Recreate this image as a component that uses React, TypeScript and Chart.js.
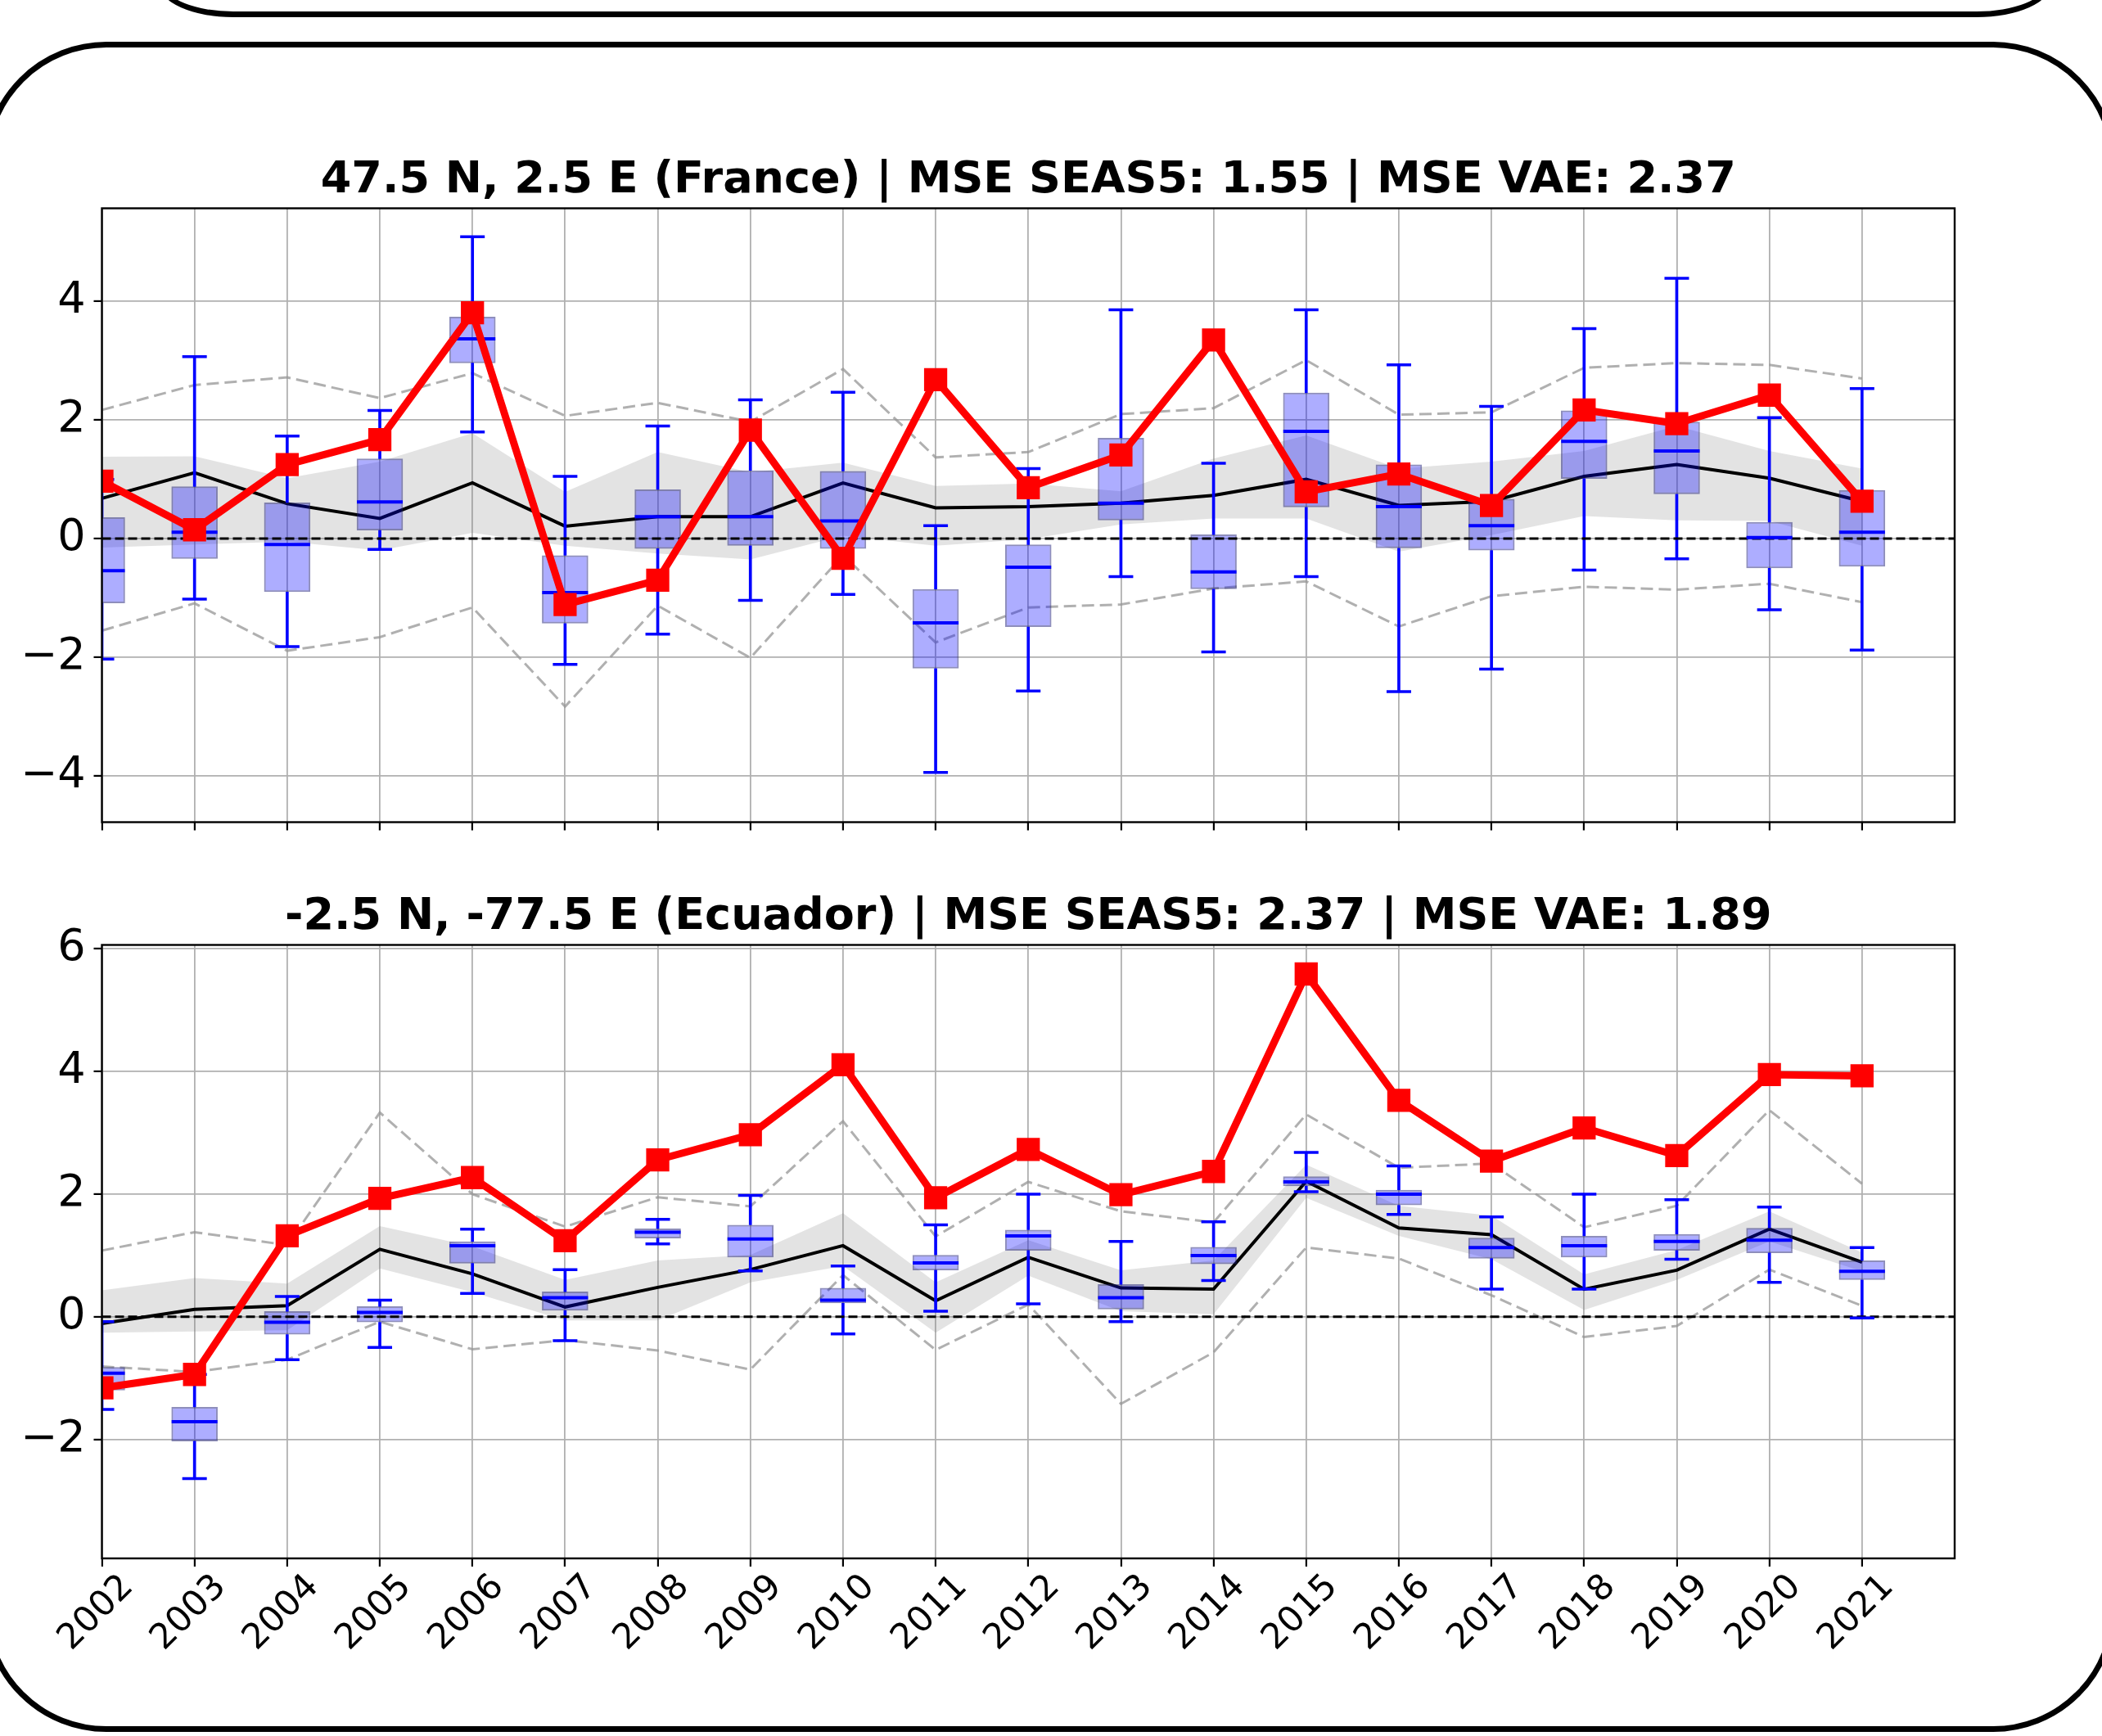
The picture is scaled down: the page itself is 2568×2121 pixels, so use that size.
import React, { useEffect, useRef } from 'react';
import { Chart, registerables } from 'chart.js';

Chart.register(...registerables);

// ---------------- data ----------------
const years = [2002, 2003, 2004, 2005, 2006, 2007, 2008, 2009, 2010, 2011, 2012, 2013, 2014, 2015, 2016, 2017, 2018, 2019, 2020, 2021];
const X_MIN = 2002;
const X_MAX = 2022;

// France panel
const frTitle = '47.5 N, 2.5 E (France) | MSE SEAS5: 1.55 | MSE VAE: 2.37';
const frObs = [0.97, 0.15, 1.25, 1.67, 3.81, -1.11, -0.70, 1.83, -0.33, 2.68, 0.86, 1.41, 3.35, 0.79, 1.09, 0.56, 2.17, 1.94, 2.42, 0.63];
const frMean = [0.68, 1.11, 0.59, 0.34, 0.94, 0.21, 0.37, 0.37, 0.94, 0.52, 0.54, 0.6, 0.73, 1.0, 0.56, 0.63, 1.05, 1.25, 1.02, 0.63];
const frBandHi = [1.38, 1.39, 1.02, 1.3, 1.78, 0.79, 1.46, 1.12, 1.28, 0.89, 0.93, 0.8, 1.35, 1.74, 1.18, 1.3, 1.48, 1.9, 1.48, 1.18];
const frBandLo = [-0.15, -0.1, -0.05, -0.2, 0.1, -0.12, -0.25, -0.35, 0.05, -0.12, -0.01, 0.24, 0.34, 0.34, -0.22, 0.06, 0.38, 0.31, 0.3, -0.12];
const frDashHi = [2.17, 2.59, 2.72, 2.37, 2.79, 2.07, 2.29, 1.97, 2.86, 1.37, 1.46, 2.1, 2.2, 3.01, 2.09, 2.13, 2.88, 2.96, 2.93, 2.7];
const frDashLo = [-1.55, -1.09, -1.89, -1.66, -1.16, -2.83, -1.13, -2.01, -0.28, -1.75, -1.16, -1.11, -0.84, -0.72, -1.48, -0.97, -0.81, -0.86, -0.76, -1.07];
const frWhiskLo = [-2.03, -1.02, -1.82, -0.18, 1.8, -2.12, -1.61, -1.04, -0.94, -3.94, -2.57, -0.64, -1.91, -0.64, -2.58, -2.2, -0.53, -0.34, -1.2, -1.88];
const frQ1 = [-1.09, -0.34, -0.9, 0.14, 2.96, -1.43, -0.17, -0.12, -0.17, -2.19, -1.49, 0.31, -0.85, 0.53, -0.16, -0.2, 1.01, 0.75, -0.5, -0.47];
const frMed = [-0.54, 0.11, -0.1, 0.62, 3.37, -0.91, 0.37, 0.37, 0.3, -1.42, -0.48, 0.6, -0.56, 1.81, 0.54, 0.22, 1.64, 1.48, 0.02, 0.11];
const frQ3 = [0.36, 0.88, 0.61, 1.35, 3.74, -0.28, 0.83, 1.15, 1.14, -0.85, -0.1, 1.7, 0.07, 2.46, 1.25, 0.67, 2.16, 1.97, 0.28, 0.82];
const frWhiskHi = [1.0, 3.07, 1.73, 2.16, 5.09, 1.05, 1.9, 2.34, 2.47, 0.22, 1.18, 3.86, 1.27, 3.86, 2.93, 2.23, 3.54, 4.39, 2.04, 2.53];
const frYTicks = [-4, -2, 0, 2, 4];

// Ecuador panel
const ecTitle = '-2.5 N, -77.5 E (Ecuador) | MSE SEAS5: 2.37 | MSE VAE: 1.89';
const ecObs = [-1.16, -0.94, 1.32, 1.93, 2.27, 1.24, 2.56, 2.97, 4.11, 1.94, 2.73, 1.99, 2.37, 5.59, 3.53, 2.54, 3.08, 2.63, 3.95, 3.93];
const ecMean = [-0.11, 0.12, 0.18, 1.1, 0.7, 0.16, 0.48, 0.77, 1.16, 0.26, 0.97, 0.47, 0.45, 2.21, 1.45, 1.34, 0.45, 0.76, 1.43, 0.89];
const ecBandHi = [0.43, 0.63, 0.54, 1.48, 1.15, 0.6, 0.92, 1.01, 1.69, 0.56, 1.25, 0.76, 0.92, 2.48, 1.81, 1.65, 0.69, 1.09, 1.72, 1.05];
const ecBandLo = [-0.26, -0.24, -0.22, 0.79, 0.4, -0.06, -0.06, 0.56, 0.83, -0.26, 0.67, 0.09, 0.04, 1.94, 1.32, 0.94, 0.11, 0.6, 1.23, 0.74];
const ecDashHi = [1.08, 1.38, 1.17, 3.33, 2.0, 1.47, 1.95, 1.8, 3.19, 1.31, 2.2, 1.72, 1.54, 3.3, 2.43, 2.5, 1.46, 1.81, 3.37, 2.17];
const ecDashLo = [-0.81, -0.9, -0.7, -0.08, -0.53, -0.38, -0.55, -0.86, 0.68, -0.54, 0.2, -1.42, -0.58, 1.13, 0.95, 0.35, -0.33, -0.15, 0.77, 0.18];
const ecWhiskLo = [-1.51, -2.64, -0.7, -0.5, 0.38, -0.39, 1.19, 0.75, -0.28, 0.09, 0.21, -0.08, 0.59, 2.04, 1.67, 0.45, 0.45, 0.94, 0.56, -0.02];
const ecQ1 = [-1.2, -2.03, -0.29, -0.09, 0.87, 0.1, 1.28, 0.97, 0.22, 0.76, 1.08, 0.12, 0.86, 2.13, 1.82, 0.95, 0.97, 1.08, 1.04, 0.6];
const ecMed = [-0.92, -1.71, -0.09, 0.07, 1.16, 0.31, 1.38, 1.27, 0.27, 0.88, 1.32, 0.31, 1.0, 2.2, 2.0, 1.13, 1.16, 1.23, 1.25, 0.74];
const ecQ3 = [-0.82, -1.47, 0.09, 0.17, 1.23, 0.41, 1.44, 1.5, 0.47, 1.01, 1.42, 0.53, 1.14, 2.29, 2.07, 1.29, 1.32, 1.35, 1.45, 0.92];
const ecWhiskHi = [-0.08, -0.94, 0.33, 0.27, 1.43, 0.77, 1.59, 1.98, 0.83, 1.5, 2.0, 1.23, 1.55, 2.68, 2.46, 1.63, 2.0, 1.91, 1.79, 1.13];
const ecYTicks = [-2, 0, 2, 4, 6];

// ---------------- chart ----------------
const FONT = "'DejaVu Sans', 'Liberation Sans', sans-serif";
const CANVAS_W = 2420;

const framePlugin = {
  id: 'axesFrame',
  afterDatasetsDraw(chart: any) {
    const { ctx, chartArea: a } = chart;
    ctx.save();
    ctx.strokeStyle = '#000';
    ctx.lineWidth = 2.4;
    ctx.strokeRect(a.left, a.top, a.right - a.left, a.bottom - a.top);
    ctx.restore();
  },
};

const fmt = (v: number) => (v < 0 ? '\u2212' + Math.abs(v) : String(v));

type PanelProps = {
  title: string;
  obs: number[]; mean: number[]; bandHi: number[]; bandLo: number[];
  dashHi: number[]; dashLo: number[];
  whiskLo: number[]; q1: number[]; med: number[]; q3: number[]; whiskHi: number[];
  yMin: number; yMax: number; yTicks: number[];
  showXLabels: boolean; top: number; height: number; xAxisHeight: number;
};

function Panel(p: PanelProps) {
  const ref = useRef<HTMLCanvasElement>(null);
  useEffect(() => {
    if (!ref.current) return;
    const pts = (arr: number[]) => years.map((x, i) => ({ x, y: arr[i] }));
    const rng = (a: number[], b: number[]) => years.map((x, i) => ({ x, y: [a[i], b[i]] }));
    const blue = '#0000ff';
    const datasets: any[] = [
      { type: 'line', data: pts(p.bandLo), borderWidth: 0, pointRadius: 0, fill: false, order: 9, clip: 0 },
      { type: 'line', data: pts(p.bandHi), borderWidth: 0, pointRadius: 0, fill: '-1', backgroundColor: 'rgba(128,128,128,0.22)', order: 8, clip: 0 },
      { type: 'line', data: pts(p.dashHi), borderColor: 'rgba(150,150,150,0.75)', borderWidth: 3, borderDash: [15, 7], pointRadius: 0, fill: false, order: 7, clip: 0 },
      { type: 'line', data: pts(p.dashLo), borderColor: 'rgba(150,150,150,0.75)', borderWidth: 3, borderDash: [15, 7], pointRadius: 0, fill: false, order: 7, clip: 0 },
      { type: 'line', data: pts(p.mean), borderColor: '#000', borderWidth: 4, pointRadius: 0, fill: false, order: 6, clip: 0 },
      { type: 'bar', data: rng(p.q1, p.q3), backgroundColor: 'rgba(0,0,255,0.32)', borderColor: 'rgba(30,30,120,0.5)', borderWidth: 2, borderSkipped: false, grouped: false, barPercentage: 0.5, categoryPercentage: 1, order: 5, clip: 0 },
      { type: 'bar', data: rng(p.whiskLo, p.q1), backgroundColor: blue, borderWidth: 0, grouped: false, barThickness: 3, order: 4, clip: 0 },
      { type: 'bar', data: rng(p.q3, p.whiskHi), backgroundColor: blue, borderWidth: 0, grouped: false, barThickness: 3, order: 4, clip: 0 },
      { type: 'line', data: [{ x: X_MIN, y: 0 }, { x: X_MAX, y: 0 }], borderColor: '#000', borderWidth: 3, borderDash: [11, 5], pointRadius: 0, fill: false, order: 3, clip: 0 },
      { type: 'line', data: pts(p.whiskLo), showLine: false, pointStyle: 'line', pointRadius: 15, pointBorderWidth: 3.5, pointBorderColor: blue, borderColor: blue, order: 2, clip: 0 },
      { type: 'line', data: pts(p.whiskHi), showLine: false, pointStyle: 'line', pointRadius: 15, pointBorderWidth: 3.5, pointBorderColor: blue, borderColor: blue, order: 2, clip: 0 },
      { type: 'line', data: pts(p.med), showLine: false, pointStyle: 'line', pointRadius: 28, pointBorderWidth: 4, pointBorderColor: blue, borderColor: blue, order: 1, clip: 0 },
      { type: 'line', data: pts(p.obs), borderColor: '#ff0000', borderWidth: 9, borderJoinStyle: 'round', borderCapStyle: 'round', pointStyle: 'rect', pointRadius: 20, pointBorderWidth: 0, pointBackgroundColor: '#ff0000', fill: false, order: 0, clip: 0 },
    ];
    const chart = new Chart(ref.current, {
      type: 'line',
      data: { datasets },
      options: {
        animation: false,
        responsive: false,
        devicePixelRatio: 1,
        events: [],
        layout: { padding: { top: 38.7, right: 29, bottom: 0, left: 0 } },
        elements: { line: { tension: 0 } },
        plugins: {
          legend: { display: false },
          tooltip: { enabled: false },
          title: {
            display: true,
            fullSize: false,
            text: p.title,
            color: '#000',
            font: { family: FONT, size: 54, weight: 'bold', lineHeight: 1.2 },
            padding: { top: 0, bottom: 1 },
          },
        },
        scales: {
          x: {
            type: 'linear',
            min: X_MIN,
            max: X_MAX,
            offset: false,
            afterBuildTicks: (axis: any) => { axis.ticks = years.map((v) => ({ value: v })); },
            afterFit: (s: any) => { s.height = p.xAxisHeight; s.paddingLeft = 0; s.paddingRight = 0; },
            grid: { color: '#b0b0b0', lineWidth: 1.8, tickColor: '#000', tickWidth: 2.2, tickLength: 10, drawTicks: true, offset: false },
            border: { display: false },
            ticks: {
              autoSkip: false,
              maxRotation: 45,
              minRotation: 45,
              padding: 0,
              labelOffset: 32,
              color: '#000',
              font: { family: FONT, size: 43 },
              callback: (v: any) => (p.showXLabels ? String(v) : ''),
            },
          },
          y: {
            type: 'linear',
            min: p.yMin,
            max: p.yMax,
            afterBuildTicks: (axis: any) => { axis.ticks = p.yTicks.map((v) => ({ value: v })); },
            afterFit: (s: any) => { s.width = 124.5; s.paddingTop = 0; s.paddingBottom = 0; },
            grid: { color: '#b0b0b0', lineWidth: 1.8, tickColor: '#000', tickWidth: 2.2, tickLength: 10, drawTicks: true },
            border: { display: false },
            ticks: {
              padding: 10,
              color: '#000',
              font: { family: FONT, size: 54 },
              callback: (v: any) => fmt(Number(v)),
            },
          },
        },
      } as any,
      plugins: [framePlugin],
    });
    return () => chart.destroy();
  }, []);
  return (
    <canvas
      ref={ref}
      width={CANVAS_W}
      height={p.height}
      style={{ position: 'absolute', left: 0, top: p.top, width: CANVAS_W, height: p.height }}
    />
  );
}

export default function App() {
  return (
    <div style={{ position: 'absolute', left: 0, top: 0, width: 2568, height: 2121, overflow: 'hidden', background: '#fff' }}>
      <Panel
        title={frTitle} obs={frObs} mean={frMean} bandHi={frBandHi} bandLo={frBandLo}
        dashHi={frDashHi} dashLo={frDashLo}
        whiskLo={frWhiskLo} q1={frQ1} med={frMed} q3={frQ3} whiskHi={frWhiskHi}
        yMin={-4.78} yMax={5.57} yTicks={frYTicks}
        showXLabels={false} top={150} height={900} xAxisHeight={45.5}
      />
      <Panel
        title={ecTitle} obs={ecObs} mean={ecMean} bandHi={ecBandHi} bandLo={ecBandLo}
        dashHi={ecDashHi} dashLo={ecDashLo}
        whiskLo={ecWhiskLo} q1={ecQ1} med={ecMed} q3={ecQ3} whiskHi={ecWhiskHi}
        yMin={-3.94} yMax={6.064} yTicks={ecYTicks}
        showXLabels={true} top={1050} height={1071} xAxisHeight={217}
      />
      {/* top frame (bottom edge of the previous panel box) */}
      <div style={{ position: 'absolute', left: 195, top: -200, width: 2310, height: 220.5, border: '7px solid #000', borderRadius: '90px / 40px', boxSizing: 'border-box' }} />
      {/* main rounded frame */}
      <div style={{ position: 'absolute', left: -20, top: 51, width: 2605, height: 2065, border: '7px solid #000', borderRadius: 150, boxSizing: 'border-box' }} />
    </div>
  );
}
